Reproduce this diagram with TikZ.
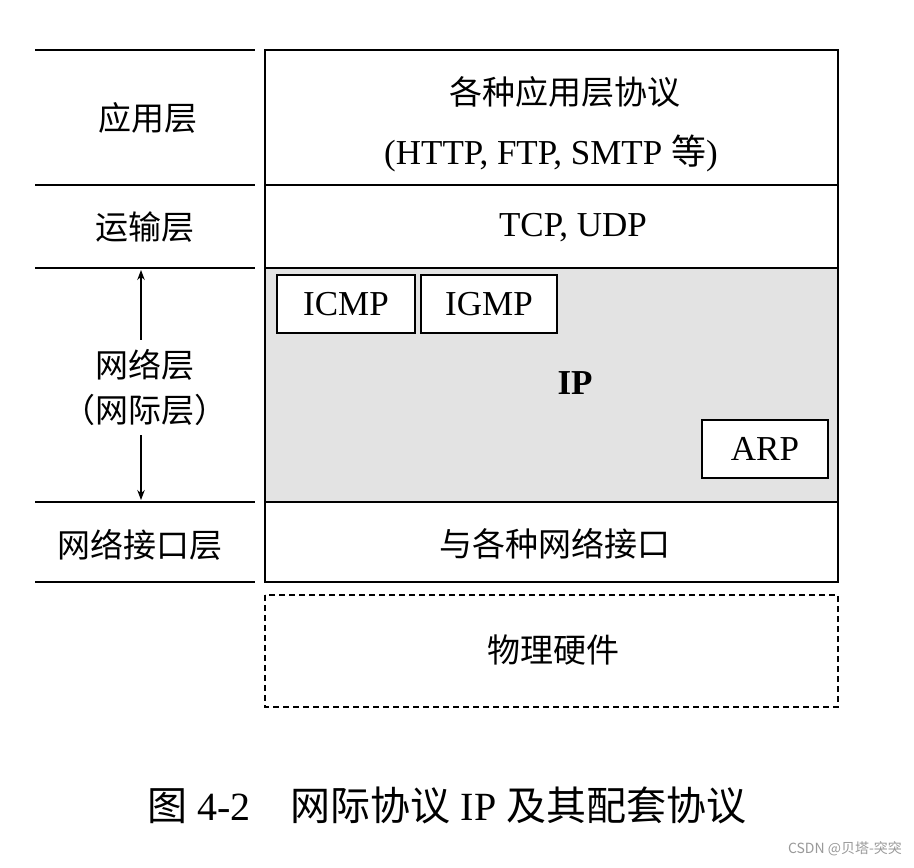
\documentclass[tikz,border=0pt]{standalone}
\usepackage{fontspec}
\setmainfont{Liberation Serif}
\newfontfamily\cjk{Noto Sans CJK SC}
\usetikzlibrary{arrows.meta}
\begin{document}
\begin{tikzpicture}[x=1pt,y=-1pt,
  lay/.style={font=\fontsize{33}{36}\selectfont\cjk},
  lat/.style={font=\fontsize{35}{38}\selectfont},
  sbox/.style={draw,line width=1.6pt,fill=white,font=\fontsize{35}{38}\selectfont,inner sep=0pt},
  ln/.style={line width=1.6pt}]
\useasboundingbox (0,0) rectangle (914,868);
\fill[white] (0,0) rectangle (914,868);
% shaded IP
\fill[gray!22] (265,268) rectangle (838,502);
% main box
\draw[ln] (265,50) rectangle (838,582);
\foreach \y in {50,185,268,502,582}{\draw[ln] (35,\y) -- (255,\y); \draw[ln] (265,\y) -- (838,\y);}
\draw[ln,dashed,dash pattern=on 6pt off 4pt] (265,595) rectangle (838,707);
% left labels
\node[lay] (l1) at (148,118) {应用层};
\node[lay] (l2) at (145,227) {运输层};
\node[lay] (l3) at (145,365) {网络层};
\node[lay] (l3b) at (145,410) {（网际层）};
\node[lay] (l4) at (140,545) {网络接口层};
\coordinate (atop) at (141,270);
\coordinate (abot) at (141,500);
\draw[line width=1.2pt,-{Stealth[length=10pt]}] (l3.north -| atop) ++(0,-6) -- (atop);
\draw[line width=1.2pt,-{Stealth[length=10pt]}] (l3b.south -| abot) ++(0,6) -- (abot);
% right text
\node[lay] (a1) at (565,92) {各种应用层协议};
\node[lat] (a2) at (551,153) {(HTTP, FTP, SMTP {\cjk 等})};
\node[lat] (t1) at (573,228) {TCP, UDP};
\node[sbox,minimum width=138pt,minimum height=58pt] (icmp) at (346,304) {ICMP};
\node[sbox,minimum width=136pt,minimum height=58pt] (igmp) at (489,304) {IGMP};
\node[font=\fontsize{35}{38}\selectfont\bfseries] (ip) at (575,383) {IP};
\node[sbox,minimum width=126pt,minimum height=58pt] (arp) at (765,449) {ARP};
\node[lay] (n1) at (555,544) {与各种网络接口};
\node[lay] (h1) at (553,650) {物理硬件};
\node[font=\fontsize{40}{44}\selectfont] (cap) at (447,805) {{\cjk 图} 4-2\quad{\cjk 网际协议} IP {\cjk 及其配套协议}};
\node[font=\fontsize{14}{16}\selectfont\cjk,text=gray!80] (wm) at (845,849) {CSDN @贝塔-突突};
\end{tikzpicture}
\end{document}
